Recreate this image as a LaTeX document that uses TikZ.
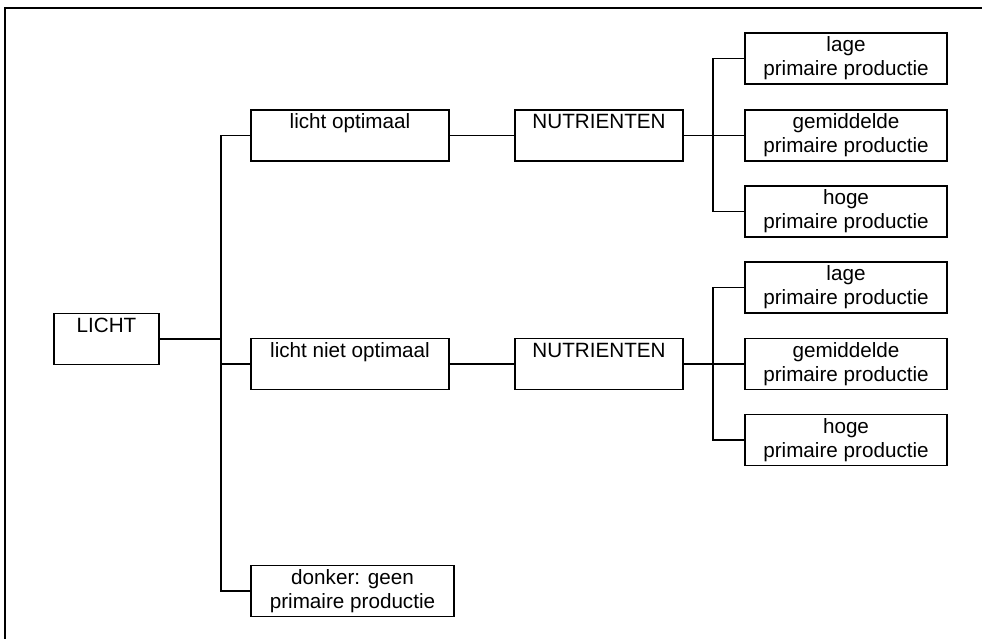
\documentclass[tikz,border=0pt]{standalone}
\usepackage{fontspec}
\setmainfont{Liberation Sans}

\begin{document}
\begin{tikzpicture}[x=0.75pt, y=-0.75pt, line width=1.2pt,
  box/.style={draw, inner sep=0pt, font=\fontsize{15.5}{18}\selectfont},
  one/.style={box, text height=14pt, text depth=24.25pt},
  two/.style={box, align=center, minimum height=38.25pt}]
\useasboundingbox (0,0) rectangle (982,639);
\draw[line width=1.5pt] (5,639) -- (5,8) -- (982,8);

\node[one, minimum width=78.75pt] (L0) at (106.5,339) {LICHT};
\node[one, minimum width=148.5pt] (O1) at (350,135.5) {licht optimaal};
\node[one, minimum width=148.5pt] (O2) at (350,364) {licht niet optimaal};
\node[two, minimum width=152.25pt] (O3) at (352.5,591) {donker: geen\\primaire productie};
\node[one, minimum width=126pt] (N1) at (599,135.5) {NUTRIENTEN};
\node[one, minimum width=126pt] (N2) at (599,364) {NUTRIENTEN};

\node[two, minimum width=151.5pt] (P11) at (846,58.5) {lage\\primaire productie};
\node[two, minimum width=151.5pt] (P12) at (846,135.5) {gemiddelde\\primaire productie};
\node[two, minimum width=151.5pt] (P13) at (846,211.5) {hoge\\primaire productie};
\node[two, minimum width=151.5pt] (P21) at (846,287.5) {lage\\primaire productie};
\node[two, minimum width=151.5pt] (P22) at (846,364) {gemiddelde\\primaire productie};
\node[two, minimum width=151.5pt] (P23) at (846,440) {hoge\\primaire productie};

\coordinate (S0) at (221,339);
\coordinate (S1) at (713,135.5);
\coordinate (S2) at (713,364);

\draw
	(L0.east) -- (S0)
	(O1.west) -| (S0) |- (O3.west)
	(O2.west) -- (O2.west -| S0)
	(O1) -- (N1)
	(O2) -- (N2)
	(N1.east) -- (S1)
	(P11.west) -| (S1) |- (P13.west)
	(P12.west) -- (S1)
	(N2.east) -- (S2)
	(P21.west) -| (S2) |- (P23.west)
	(P22.west) -- (S2)
;
\end{tikzpicture}
\end{document}
